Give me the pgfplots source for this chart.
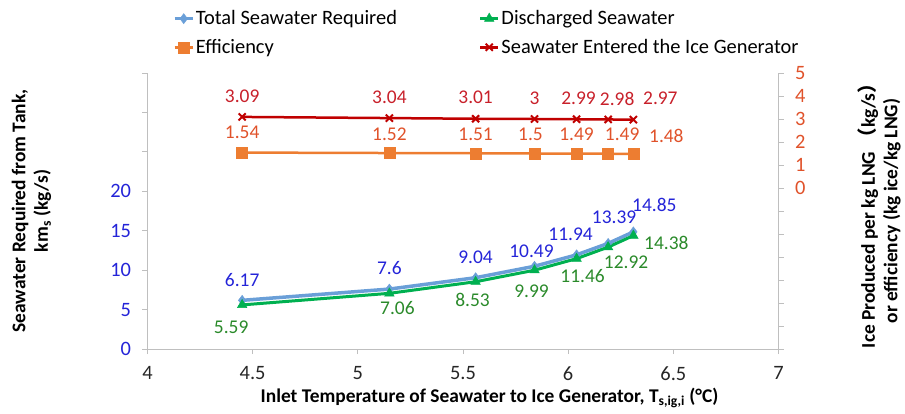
\documentclass[border=0pt]{standalone}
\usepackage{fontspec}
\setmainfont{Carlito}
\newfontfamily\cjk{Noto Sans CJK SC}
\usepackage{pgfplots}
\pgfplotsset{compat=1.18}
\usepackage{pgfplotstable}

\definecolor{cTot}{HTML}{6A9FD8}
\definecolor{cDis}{HTML}{00B050}
\definecolor{cEff}{HTML}{ED7D31}
\definecolor{cEnt}{HTML}{C00000}
\definecolor{lTot}{HTML}{2424D8}
\definecolor{lDis}{HTML}{2A8A2A}
\definecolor{lEff}{HTML}{E0522A}
\definecolor{lEnt}{HTML}{C8202A}
\definecolor{axgray}{HTML}{BFBFBF}

\pgfplotstableread{
x y dx dy lab
4.45 6.17 0 20 6.17
5.15 7.6 0 21 7.6
5.56 9.04 0 20 9.04
5.84 10.49 -3 15 10.49
6.04 11.94 -6 21 11.94
6.19 13.39 6 26 13.39
6.31 14.85 21 27 14.85
}\tot
\pgfplotstableread{
x y dx dy lab
4.45 5.59 -11 -22 5.59
5.15 7.06 8 -15 7.06
5.56 8.53 -3 -18 8.53
5.84 9.99 -3 -21 9.99
6.04 11.46 6 -17 11.46
6.19 12.92 18 -15 12.92
6.31 14.38 33 -7 14.38
}\dis
\pgfplotstableread{
x y dx dy lab
4.45 1.54 0 20 1.54
5.15 1.52 0 19 1.52
5.56 1.51 0 19 1.51
5.84 1.50 -4 19 1.5
6.04 1.49 0 19 1.49
6.19 1.49 14 19 1.49
6.31 1.48 33 18 1.48
}\eff
\pgfplotstableread{
x y dx dy lab
4.45 3.09 0 21 3.09
5.15 3.04 0 21 3.04
5.56 3.01 0 21 3.01
5.84 3.00 0 21 3
6.04 2.99 2 21 2.99
6.19 2.98 9 21 2.98
6.31 2.97 27 21 2.97
}\ent

\newcommand{\fs}{\fontsize{20.5}{24}\selectfont}
\newcommand{\fl}{\fontsize{19.5}{23}\selectfont}
\newcommand{\fa}{\fontsize{19.5}{22.5}\selectfont}

\pgfplotsset{
  common/.style={
    scale only axis, width=631bp, height=276bp,
    xmin=4, xmax=7,
    tick align=outside, major tick length=5bp,
    axis line style={axgray, line width=0.8bp},
    tick style={axgray, line width=0.8bp},
    every tick label/.append style={font=\fs},
    /pgf/number format/assume math mode=true,
    label style={font=\fa\bfseries, text=black},
  },
  lab/.style={
    nodes near coords, point meta=explicit symbolic,
    visualization depends on={\thisrow{dx} \as \dx},
    visualization depends on={\thisrow{dy} \as \dy},
    every node near coord/.append style={anchor=center, xshift=\dx bp, yshift=\dy bp, font=\fl, text=#1},
  },
}

\begin{document}
\begin{tikzpicture}
\begin{axis}[common,
  ymin=0, ymax=35,
  axis y line*=left, axis x line*=bottom,
  xtick={4,4.5,5,5.5,6,6.5,7},
  xticklabels={4,4.5,5,5.5,6,6.5,7},
  ytick={0,5,10,15,20,25,30,35},
  yticklabels={0,5,10,15,20,,,},
  yticklabel style={text=lTot, xshift=-8bp},
  xticklabel style={text=black!85, yshift=-9bp},
  xlabel={Inlet Temperature of Seawater to Ice Generator, T\textsubscript{s,ig,i} (°C)},
  xlabel style={at={(axis description cs:0.542,-0.1775)}, anchor=center},
  ylabel={Seawater Required from Tank,\\ km\textsubscript{s} (kg/s)},
  ylabel style={at={(axis description cs:-0.1838,0.5)}, anchor=center, align=center},
]
\addplot[cTot, line width=3.5bp, mark=diamond*, mark size=5bp, mark options={fill=cTot, draw=cTot, line width=0.5bp}, lab=lTot]
  table[x=x, y=y, meta=lab] {\tot};
\addplot[cDis, line width=3bp, mark=triangle*, mark size=5.5bp, mark options={fill=cDis, draw=cDis, line width=0.5bp}, lab=lDis]
  table[x=x, y=y, meta=lab] {\dis};
\end{axis}

\begin{axis}[common,
  ymin=-7, ymax=5,
  axis y line*=right, axis x line=none,
  ytick={-7,-6,-5,-4,-3,-2,-1,0,1,2,3,4,5},
  yticklabels={,,,,,,,0,1,2,3,4,5},
  yticklabel style={text=lEff, xshift=8bp},
  ylabel={Ice Produced per kg LNG {\cjk （}kg/s{\cjk ）}\\ or efficiency (kg ice/kg LNG)},
  ylabel style={at={(axis description cs:1.1600,0.5)}, anchor=center, align=center},
  legend columns=2,
  legend cell align=left,
  legend style={at={(axis description cs:0.538,1.145)}, anchor=center, draw=none, fill=none, font=\fs, row sep=9bp,
    /tikz/every even column/.append style={column sep=80bp}},
  legend image code/.code={\draw[mark repeat=2, mark phase=2] plot coordinates {(0bp,0bp) (9bp,0bp) (18bp,0bp)};},
]
\addlegendimage{cTot, line width=2.5bp, mark=diamond*, mark size=5bp, mark options={fill=cTot, draw=cTot, line width=0.5bp}}
\addlegendentry{Total Seawater Required}
\addlegendimage{cDis, line width=2.5bp, mark=triangle*, mark size=5.5bp, mark options={fill=cDis, draw=cDis, line width=0.5bp}}
\addlegendentry{Discharged Seawater}
\addplot[cEff, line width=2.5bp, mark=square*, mark size=5.5bp, mark options={fill=cEff, draw=cEff, line width=0.5bp}, lab=lEff]
  table[x=x, y=y, meta=lab] {\eff};
\addlegendentry{Efficiency}
\addplot[cEnt, line width=2.5bp, mark=x, mark size=5bp, mark options={line width=2bp}, lab=lEnt]
  table[x=x, y=y, meta=lab] {\ent};
\addlegendentry{Seawater Entered the Ice Generator}
\end{axis}
\pgfresetboundingbox
\path (-147.5bp,-65bp) rectangle (757.5bp,349bp);
\end{tikzpicture}
\end{document}
